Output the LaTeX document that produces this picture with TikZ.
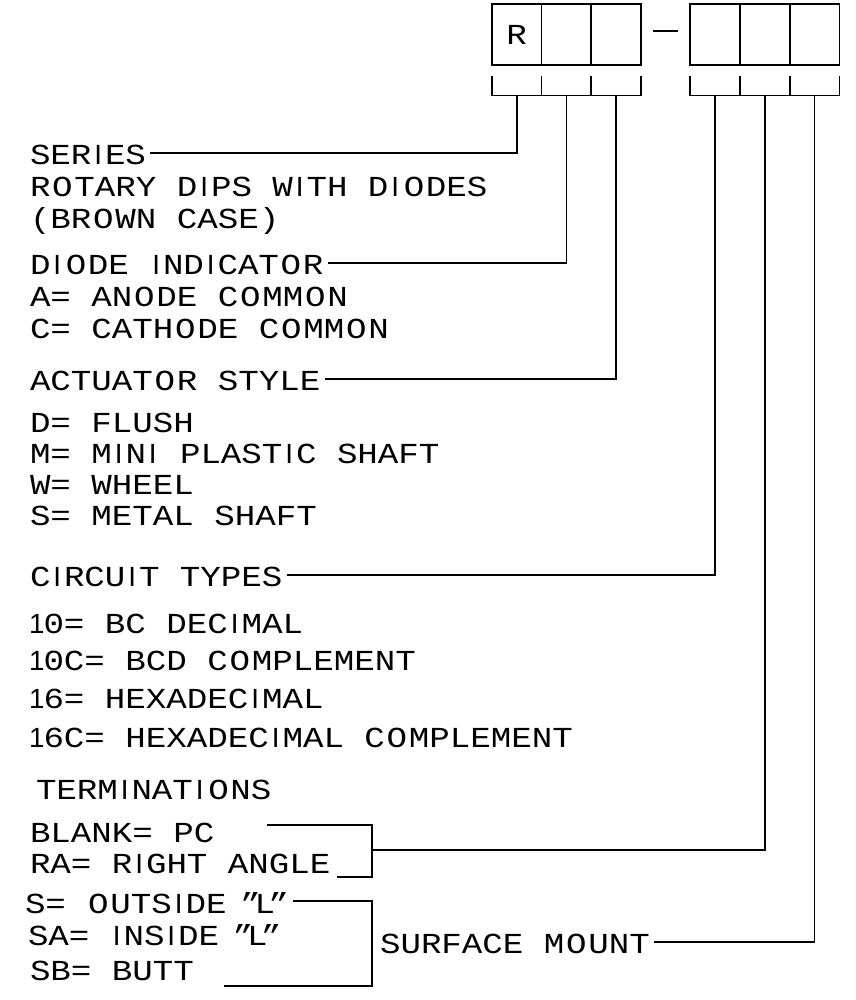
\documentclass[tikz,border=0pt]{standalone}
\usepackage{fontspec}
\usepackage{graphicx}
\setmainfont{Liberation Mono}[FakeStretch=1.178]
\newfontfamily\sansI{Liberation Sans}
\newcommand\nI{\edef\myCapHt{\the\fontcharht\font`I}\makebox[13.5pt][c]{\resizebox{!}{\myCapHt}{\sansI I}}}
\newcommand\none{\edef\myCapHt{\the\fontcharht\font`I}\makebox[13.5pt][c]{\resizebox{!}{\myCapHt}{\sansI 1}}}
\newcommand\wO{\makebox[24pt][c]{O}}
\newcommand\nq{\makebox[7.5pt][c]{"}}
\begin{document}
\begin{tikzpicture}[x=1pt,y=-1pt,line width=1.8pt,
  lbl/.style={anchor=base west,inner xsep=4pt,inner ysep=0pt,outer sep=0pt,
    text height=23pt,text depth=0pt,font=\fontsize{29}{30}\selectfont},
  cell/.style={draw,minimum width=49.8pt,minimum height=61pt,inner sep=0pt,
    outer sep=0pt,font=\fontsize{29}{30}\selectfont}]
\useasboundingbox (0,0) rectangle (855,1000);
% code boxes
\node[cell] (L1) at (516.6,34.5) {R};
\node[cell] (L2) at (566.4,34.5) {};
\node[cell] (L3) at (616.2,34.5) {};
\node[cell] (R1) at (714.9,34.5) {};
\node[cell] (R2) at (764.7,34.5) {};
\node[cell] (R3) at (814.5,34.5) {};
\draw (653,31) -- (678,31);
% brackets under boxes
\draw (491.7,76) -- (491.7,95.5) -- (641.1,95.5) -- (641.1,76);
\draw (541.5,76) -- (541.5,95.5) (591.3,76) -- (591.3,95.5);
\draw (690,76) -- (690,95.5) -- (839.4,95.5) -- (839.4,76);
\draw (739.8,76) -- (739.8,95.5) (789.6,76) -- (789.6,95.5);
\coordinate (b1) at (516.6,95.5);
\coordinate (b2) at (566.4,95.5);
\coordinate (b3) at (616.2,95.5);
\coordinate (b4) at (714.9,95.5);
\coordinate (b5) at (764.7,95.5);
\coordinate (b6) at (814.5,95.5);
% texts
\node[lbl] (series) at (26,164.8) {SER\nI{}ES};
\node[lbl] (r1) at (26,197) {R\wO{}TARY D\nI{}PS W\nI{}TH D\nI{}\wO{}DES};
\node[lbl] (r2) at (26,229) {(BR\wO{}WN CASE)};
\node[lbl] (diode) at (26,274.2) {D\nI{}\wO{}DE \nI{}ND\nI{}CAT\wO{}R};
\node[lbl] (d1) at (26,306.5) {A= AN\wO{}DE C\wO{}MM\wO{}N};
\node[lbl] (d2) at (26,338) {C= CATH\wO{}DE C\wO{}MM\wO{}N};
\node[lbl] (act) at (26,390.8) {ACTUAT\wO{}R STYLE};
\node[lbl] (a1) at (26,432) {D= FLUSH};
\node[lbl] (a2) at (26,463) {M= M\nI{}N\nI{} PLAST\nI{}C SHAFT};
\node[lbl] (a3) at (26,494) {W= WHEEL};
\node[lbl] (a4) at (26,525) {S= METAL SHAFT};
\node[lbl] (circ) at (26,586.5) {C\nI{}RCU\nI{}T TYPES};
\node[lbl] (t1) at (26,633) {\none{}0= BC DEC\nI{}MAL};
\node[lbl] (t2) at (26,670) {\none{}0C= BCD C\wO{}MPLEMENT};
\node[lbl] (t3) at (26,708) {\none{}6= HEXADEC\nI{}MAL};
\node[lbl] (t4) at (26,747) {\none{}6C= HEXADEC\nI{}MAL C\wO{}MPLEMENT};
\node[lbl] (term) at (32,799) {TERM\nI{}NAT\nI{}\wO{}NS};
\node[lbl] (e1) at (26,842) {BLANK= PC};
\node[lbl] (e2) at (26,873) {RA= R\nI{}GHT ANGLE};
\node[lbl] (s1) at (21,913) {S= \wO{}UTS\nI{}DE \nq{}L\nq{}};
\node[lbl] (s2) at (24,945) {SA= \nI{}NS\nI{}DE \nq{}L\nq{}};
\node[lbl] (s3) at (26,980) {SB= BUTT};
\node[lbl] (surf) at (376,953.2) {SURFACE M\wO{}UNT};
% connectors
\draw (series.east) -| (b1);
\draw (diode.east) -| (b2);
\draw (act.east) -| (b3);
\draw (circ.east) -| (b4);
\draw (266.7,825) -- (371.7,825) -- (371.7,877.3) -- (337.3,877.3);
\coordinate (tm) at (371.7,850);
\draw (tm) -| (b5);
\draw (293,900.7) -- (371.7,900.7) -- (371.7,986) -- (224,986);
\draw (surf.east) -| (b6);
\end{tikzpicture}
\end{document}
